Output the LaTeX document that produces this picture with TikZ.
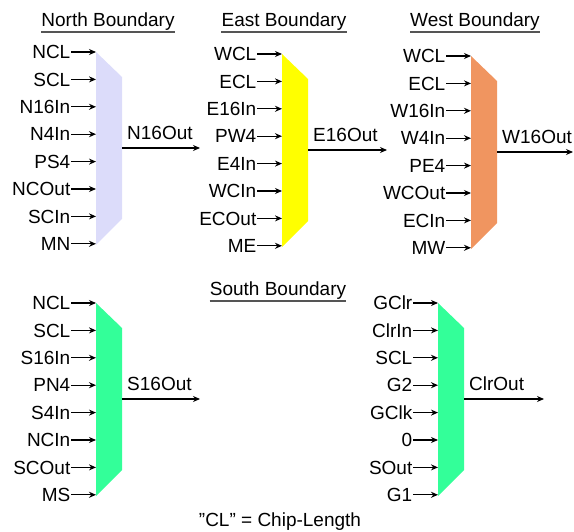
\documentclass[tikz,border=0pt]{standalone}
\usepackage{fontspec}
\setmainfont{Liberation Sans}
\usetikzlibrary{arrows.meta}
\definecolor{cnorth}{RGB}{220,220,250}
\definecolor{ceast}{RGB}{255,255,0}
\definecolor{cwest}{RGB}{240,149,96}
\definecolor{cgreen}{RGB}{51,255,153}
\definecolor{cul}{RGB}{85,85,85}
\tikzset{
  sig/.style={-{Stealth[length=7pt,width=6pt]}, line width=1.3pt, black},
  inlab/.style={anchor=east, inner sep=0.5pt, text height=13.5pt, text depth=0pt},
  outlab/.style={anchor=base west, inner sep=0pt},
  ttl/.style={anchor=base, inner sep=0pt},
  uline/.style={line width=1.8pt, cul},
}
\newcommand\muxblk[7]{%
  \fill[#4] (#2,#3) -- ({#2+26},{#3+25}) -- ({#2+26},{#3+167}) -- (#2,{#3+193}) -- cycle;
  \foreach \mylab [count=\i] in {#5} {
    \coordinate (#1in\i) at (#2,{#3+(\i-1)*27.4});
    \node[inlab] (#1lab\i) at ({#2-25},{#3+(\i-1)*27.4}) {\mylab};
    \draw[sig] (#1lab\i.east) -- (#1in\i);
  }
  \coordinate (#1o) at ({#2+26},{#3+96});
  \coordinate (#1end) at (#7,{#3+96});
  \draw[sig] (#1o) -- (#1end);
  \node[outlab] (#1out) at ({#2+31},{#3+88}) {#6};
}
\newcommand\boxtitle[4]{%
  \node[ttl] (#1) at (#2,#3) {#4};
  \draw[uline] ([yshift=-5pt]#1.base west) -- ([yshift=-5pt]#1.base east);
}
\begin{document}
\begin{tikzpicture}[x=1pt,y=-1pt]
\fontsize{19}{22}\selectfont
\useasboundingbox (0,0) rectangle (574,532);
\boxtitle{tn}{108}{27}{North Boundary}
\boxtitle{te}{284}{27}{East Boundary}
\boxtitle{tw}{475}{27}{West Boundary}
\boxtitle{ts}{278}{296}{South Boundary}
\muxblk{n}{96}{52}{cnorth}{NCL,SCL,N16In,N4In,PS4,NCOut,SCIn,MN}{N16Out}{200}
\muxblk{e}{282}{54}{ceast}{WCL,ECL,E16In,PW4,E4In,WCIn,ECOut,ME}{E16Out}{387}
\muxblk{w}{471}{56}{cwest}{WCL,ECL,W16In,W4In,PE4,WCOut,ECIn,MW}{W16Out}{573}
\muxblk{s}{96}{303}{cgreen}{NCL,SCL,S16In,PN4,S4In,NCIn,SCOut,MS}{S16Out}{200}
\muxblk{c}{438}{303}{cgreen}{GClr,ClrIn,SCL,G2,GClk,0,SOut,G1}{ClrOut}{544}
\node[ttl] (note) at (280,526) {\char"22 CL\char"22{} = Chip-Length};
\end{tikzpicture}
\end{document}
